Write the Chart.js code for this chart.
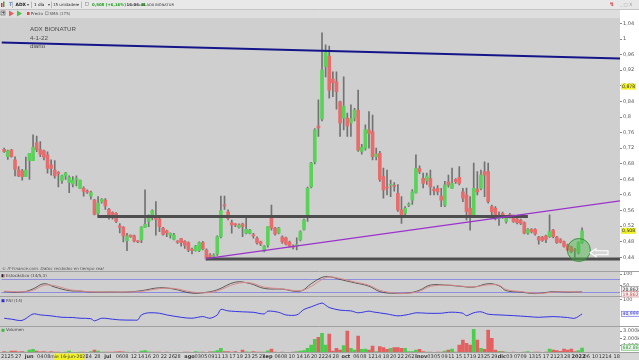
<!DOCTYPE html>
<html>
<head>
<meta charset="utf-8">
<title>ADX BIONATUR</title>
<script src="https://cdn.jsdelivr.net/npm/chart.js@4.4.1/dist/chart.umd.min.js"></script>
<style>
  html, body { margin: 0; padding: 0; background: #cfcfcf; }
  #myChart { display: block; }
</style>
</head>
<body>
<canvas id="myChart" width="639" height="360"></canvas>
<script>
// ADX BIONATUR, daily candles
// one entry per trading day, slot 0 = 21-may-2021, last slot (160) = 4-ene-2022
const opens = [
  .717,.698,.715,.690,.664,.662,.647,.688,.688,.734,
  .717,.713,.703,.677,.664,.656,.637,.649,.632,.628,
  .640,.617,.617,.610,.597,.587,.553,.582,.587,.563,
  .555,.553,.521,.517,.483,.497,.495,.481,.485,.517,
  .532,.544,.539,.538,.515,.508,.497,.487,.480,.488,
  .481,.478,.461,.457,.457,.478,.459,.446,.443,.449,
  .493,.574,.557,.529,.526,.517,.526,.502,.502,.497,
  .489,.480,.456,.472,.546,.515,.502,.492,.490,.479,
  .468,.470,.485,.512,.549,.621,.685,.777,.795,.929,
  .956,.897,.891,.839,.797,.797,.785,.797,.818,.712,
  .720,.767,.762,.698,.707,.647,.620,.625,.624,.604,
  .562,.553,.574,.587,.606,.668,.643,.637,.643,.615,
  .617,.597,.574,.634,.617,.640,.645,.608,.600,.566,
  .549,.615,.617,.660,.660,.570,.566,.540,.553,.532,
  .550,.546,.538,.536,.529,.502,.512,.512,.492,.492,
  .495,.493,.510,.492,.486,.480,.472,.467,.458,.452,
  .478
];
const highs = [
  .720,.715,.717,.698,.673,.666,.697,.707,.754,.751,
  .737,.715,.711,.690,.688,.660,.651,.658,.649,.647,
  .649,.638,.621,.613,.610,.589,.596,.591,.591,.566,
  .557,.555,.527,.519,.502,.497,.497,.483,.519,.613,
  .549,.562,.583,.540,.517,.510,.503,.502,.483,.489,
  .483,.480,.464,.471,.480,.481,.462,.450,.449,.495,
  .597,.597,.562,.536,.527,.526,.528,.546,.512,.502,
  .493,.482,.470,.519,.574,.517,.517,.495,.492,.482,
  .472,.490,.508,.538,.620,.684,.770,.844,1.016,.985,
  .982,.916,.916,.841,.903,.810,.831,.822,.869,.730,
  .780,.814,.805,.720,.712,.669,.664,.638,.632,.627,
  .596,.570,.580,.614,.703,.675,.656,.656,.664,.621,
  .624,.617,.635,.651,.669,.642,.673,.617,.618,.596,
  .682,.660,.664,.685,.682,.574,.570,.557,.556,.546,
  .553,.549,.541,.538,.531,.514,.514,.514,.494,.494,
  .497,.549,.512,.494,.488,.482,.474,.469,.463,.480,
  .516
];
const lows = [
  .709,.691,.697,.649,.647,.638,.647,.640,.688,.711,
  .698,.690,.656,.651,.643,.621,.630,.640,.606,.621,
  .623,.617,.597,.604,.589,.549,.549,.579,.563,.538,
  .538,.529,.503,.480,.457,.491,.480,.478,.478,.517,
  .519,.536,.497,.506,.497,.493,.489,.485,.476,.469,
  .463,.455,.449,.456,.455,.459,.433,.435,.435,.445,
  .490,.563,.536,.502,.519,.515,.493,.500,.500,.489,
  .474,.470,.454,.466,.510,.497,.500,.476,.472,.466,
  .462,.459,.482,.510,.532,.618,.680,.750,.790,.903,
  .848,.852,.820,.750,.767,.750,.750,.790,.712,.705,
  .715,.720,.690,.690,.635,.592,.600,.596,.610,.558,
  .527,.547,.570,.576,.605,.655,.618,.627,.600,.600,
  .600,.570,.570,.620,.617,.630,.626,.583,.536,.510,
  .549,.600,.613,.596,.579,.549,.536,.522,.540,.528,
  .541,.530,.526,.524,.500,.499,.503,.497,.474,.481,
  .478,.491,.490,.476,.477,.466,.457,.452,.440,.449,
  .476
];
const closes = [
  .711,.713,.698,.666,.649,.647,.664,.707,.722,.717,
  .705,.697,.668,.668,.649,.655,.649,.656,.645,.638,
  .641,.638,.609,.607,.606,.550,.579,.589,.572,.549,
  .550,.532,.517,.495,.495,.493,.482,.480,.517,.525,
  .547,.560,.538,.519,.499,.503,.502,.497,.479,.478,
  .471,.459,.457,.469,.478,.462,.436,.440,.445,.493,
  .560,.572,.540,.523,.523,.523,.519,.512,.510,.495,
  .478,.474,.469,.519,.515,.500,.515,.480,.474,.469,
  .466,.472,.506,.536,.617,.682,.767,.772,.921,.967,
  .869,.888,.865,.784,.828,.777,.796,.818,.715,.722,
  .768,.758,.698,.705,.640,.613,.618,.627,.622,.562,
  .544,.566,.577,.608,.668,.660,.630,.649,.621,.611,
  .608,.587,.626,.626,.630,.634,.630,.592,.557,.549,
  .617,.608,.651,.651,.583,.557,.544,.546,.543,.543,
  .544,.532,.529,.527,.502,.512,.506,.500,.485,.483,
  .486,.506,.493,.478,.480,.469,.459,.455,.457,.478,
  .508
];
const volumes = [
  180000,120000,270000,260000,150000,180000,130000,410000,500000,270000,
  150000,180000,130000,180000,120000,140000,90000,110000,270000,95000,
  80000,140000,120000,90000,180000,410000,270000,110000,140000,120000,
  140000,160000,180000,150000,140000,80000,140000,70000,270000,320000,
  150000,140000,120000,110000,90000,140000,80000,95000,60000,90000,
  140000,120000,100000,180000,130000,120000,95000,150000,180000,320000,
  640000,180000,180000,120000,180000,100000,410000,150000,120000,180000,
  110000,140000,130000,300000,550000,140000,100000,120000,95000,80000,
  110000,180000,270000,320000,640000,1090000,1860000,2140000,2680000,1090000,
  2590000,270000,640000,410000,1000000,3000000,640000,410000,2320000,500000,
  550000,410000,960000,180000,860000,730000,500000,640000,730000,730000,
  640000,640000,180000,180000,410000,500000,180000,140000,110000,95000,
  120000,140000,270000,410000,550000,140000,1090000,1770000,1320000,1090000,
  3230000,1770000,640000,500000,3140000,2000000,410000,230000,180000,140000,
  95000,120000,80000,95000,130000,180000,90000,110000,140000,95000,
  120000,550000,410000,320000,230000,550000,410000,550000,180000,320000,
  682867
];

// Estocastico (14/5,3), read at points along the lines
const stochSlots = [0,5,8,11,14,18,21,24,30,34,38,43,47,52,56,59,64,68,72,77,82,85,88,90,93,97,101,104,108,112,115,118,123,126,130,134,137,139,143,147,150,152,156,158,160];
const stochK = [22,20,34,57,42,26,24,20,20,20,26,39,33,15,19,30,64,58,36,33,24,57,85,88,76,61,46,22,14,16,28,51,50,46,42,57,48,26,20,13,18,22,20,20,20.862];
const stochD = [24,21,28,50,48,31,25,21,20,20,23,35,36,20,17,25,56,61,42,34,26,45,76,87,80,65,50,28,16,15,24,45,51,47,43,52,50,31,22,15,16,20,21,20,19.862];
const stochBands = [20, 80];

// RSI (14)
const rsiSlots = [0,2,5,8,10,13,16,19,21,24,25,27,30,32,36,37,38,40,43,45,49,52,55,57,59,60,62,66,69,72,73,76,78,81,83,85,88,89,90,93,96,98,101,102,106,109,112,114,117,121,123,125,127,128,130,132,134,137,141,145,148,152,156,158,160];
const rsiValues = [23,19,14,41,37,33,27,26,23,21,12,23,19,16,15,16,37,46,44,37,27,23,30,23,37,60,54,50,48,41,53,48,37,37,60,71,87,78,68,57,54,46,53,50,41,33,39,46,44,44,48,48,44,34,46,50,40,37,34,30,27,30,26,23,40.999];

// x axis labels
const tickSlots = [0,1.8,3.9,6.9,10,11.9,23.4,25.8,28.7,31.8,33.5,35.9,37.9,39.8,42,44.2,46.4,48,51.3,53.6,55.4,57.3,59.1,61.1,63.2,65.2,67.4,69.4,71.4,72.9,75.7,77.5,79.6,81.8,83.8,85.8,87.9,89.7,91.8,94.6,97.5,99.4,101.7,103.5,105.7,107.7,109.8,111.8,113.6,115.7,118,119.9,121.9,123.8,125.9,128,129.8,131.9,133.7,135.7,137.8,139.9,142,143.8,146.1,147.9,150,152.1,153.9,155.9,159,161.3,163.6,165.5,167.3,169.6];
const tickText = ['21','25','27','jun','04','08','24','28','jul','06','08','12','14','16','20','22','26','28','ago','03','05','09','11','13','17','19','23','25','27','sep','06','08','10','14','16','20','22','24','28','oct','06','08','12','14','18','20','22','26','28','nov','03','05','09','11','15','17','19','23','25','29','dic','03','07','09','13','15','17','21','23','28','2022','06','10','12','14','18'];
const monthText = ['jun','jul','ago','sep','oct','nov','dic','2022'];
const priceTicks = [0.44,0.48,0.52,0.56,0.6,0.64,0.68,0.72,0.76,0.8,0.84,0.88,0.92,0.96,1,1.04];
const stochTicks = [50, 100];
const rsiTicks = [100];
const volTicks = [1000000, 2000000, 3000000];

// lines drawn by hand on the chart (slot, price)
const blueSlots = [-0.75, 170.5], bluePrices = [0.991, 0.950];
const purpleSlots = [55.9, 170.5], purplePrices = [0.437, 0.585];
const supportSlots = [25.8, 145], supportPrices = [0.545, 0.545];
const floorSlots = [55.9, 170.5], floorPrices = [0.436, 0.436];
const circleSlot = 159.1, circlePrice = 0.459;
const arrowSlot = 162.2, arrowPrice = 0.452;
const crossPrice = 0.878;
const crossDateSlot = 18, crossDateText = 'mie 16-jun-2021';

const GREEN = '#5ad25a', RED = '#e86c6c';
const FONT = 'DejaVu Sans';

function isUp(i) { return closes[i] >= opens[i]; }
function toPoints(xs, ys) { return xs.map(function (x, k) { return {x: x, y: ys[k]}; }); }
function comma(v) { return String(+v.toFixed(3)).replace('.', ','); }
function dots(v) { return String(Math.round(v)).replace(/\B(?=(\d{3})+(?!\d))/g, '.'); }

const slots = closes.map(function (c, i) { return i; });

function rightAxis(weight, min, max, ticks, fmt) {
  return {
    type: 'linear', position: 'right', stack: 'panels', stackWeight: weight,
    min: min, max: max,
    afterFit: function (s) { s.width = 19; },
    afterBuildTicks: function (s) { s.ticks = ticks.map(function (v) { return {value: v}; }); },
    border: {display: false},
    grid: {drawOnChartArea: false, tickLength: 2, color: '#8a8a8a'},
    ticks: {autoSkip: false, padding: 1, color: '#555', font: {family: FONT, size: 5}, callback: fmt}
  };
}

function text(c, s, x, y, size, color, extra) {
  c.font = (extra || '') + ' ' + size + 'px "' + FONT + '"';
  c.fillStyle = color;
  c.fillText(s, x, y);
}

function valueBox(c, s, x, y, color, border) {
  c.font = '4.6px "' + FONT + '"';
  var w = c.measureText(s).width + 3;
  c.fillStyle = '#f4f4f4';
  c.fillRect(x, y - 3, w, 6);
  c.strokeStyle = border; c.lineWidth = 0.6;
  c.strokeRect(x + 0.3, y - 2.7, w - 0.6, 5.4);
  c.fillStyle = color;
  c.fillText(s, x + 1.5, y + 0.2);
}

const decor = {
  id: 'decor',
  beforeDraw: function (chart) {
    var c = chart.ctx, a = chart.chartArea;
    c.save();
    c.fillStyle = '#e8e8e8'; c.fillRect(0, 0, chart.width, 9);
    c.fillStyle = '#dedede'; c.fillRect(0, 9, chart.width, 9);
    c.fillStyle = '#cfcfcf'; c.fillRect(a.left, a.top, a.right - a.left, a.bottom - a.top);
    c.fillStyle = '#ffffff'; c.fillRect(a.right, 10, chart.width - a.right, a.bottom - 10);
    c.fillStyle = '#d6d6d6'; c.fillRect(0, a.bottom, chart.width, chart.height - a.bottom);
    c.restore();
  },
  beforeDatasetsDraw: function (chart) {
    var c = chart.ctx, a = chart.chartArea, ys = chart.scales.yStoch;
    c.save();
    c.strokeStyle = '#8e8ee0'; c.lineWidth = 1;
    stochBands.forEach(function (v) {
      var y = Math.round(ys.getPixelForValue(v)) + 0.5;
      c.beginPath(); c.moveTo(a.left, y); c.lineTo(a.right, y); c.stroke();
    });
    c.restore();
  },
  afterDatasetsDraw: function (chart) {
    var c = chart.ctx, x = chart.scales.x, y = chart.scales.yPrice;
    c.save();
    // circle round the last candles
    c.beginPath();
    c.arc(x.getPixelForValue(circleSlot), y.getPixelForValue(circlePrice), 11.5, 0, Math.PI * 2);
    c.fillStyle = 'rgba(70,185,70,0.45)'; c.fill();
    c.strokeStyle = 'rgba(45,140,45,0.85)'; c.lineWidth = 1; c.stroke();
    // arrow pointing at it
    var ax = x.getPixelForValue(arrowSlot), ay = y.getPixelForValue(arrowPrice);
    c.beginPath();
    c.moveTo(ax, ay); c.lineTo(ax + 6, ay - 4); c.lineTo(ax + 6, ay - 2); c.lineTo(ax + 18, ay - 2);
    c.lineTo(ax + 18, ay + 2); c.lineTo(ax + 6, ay + 2); c.lineTo(ax + 6, ay + 4); c.closePath();
    c.fillStyle = 'rgba(214,214,214,0.9)'; c.fill();
    c.strokeStyle = '#ffffff'; c.lineWidth = 1.1; c.stroke();
    c.restore();
  },
  afterDraw: function (chart) {
    var c = chart.ctx, a = chart.chartArea, s = chart.scales;
    var yP = s.yPrice, yS = s.yStoch, yR = s.yRsi, yV = s.yVol;
    c.save();
    c.textBaseline = 'middle';

    // panel separators
    c.strokeStyle = '#a0a0a0'; c.lineWidth = 1;
    [yS.top, yR.top, yV.top, yV.bottom].forEach(function (yy) {
      var p = Math.round(yy) - 0.5;
      c.beginPath(); c.moveTo(0, p); c.lineTo(chart.width, p); c.stroke();
    });
    c.strokeStyle = '#c4c4c4';
    c.beginPath(); c.moveTo(0, 9.5); c.lineTo(chart.width, 9.5); c.stroke();

    // toolbar, row 1
    c.fillStyle = '#d43a3a'; c.fillRect(1, 3, 1.5, 4);
    c.fillStyle = '#3aa83a'; c.fillRect(3, 1.5, 1.5, 5.5);
    text(c, 'Ŧ', 9, 4.7, 5, '#2a62c8');
    text(c, 'ADX', 15.5, 4.7, 4.4, '#222', 'bold');
    text(c, '▾', 27, 4.7, 4, '#444');
    text(c, '1 día', 34, 4.7, 4.2, '#222');
    text(c, '▾', 48, 4.7, 4, '#444');
    text(c, '15 unidades', 53, 4.7, 4, '#333');
    text(c, '▾', 77, 4.7, 4, '#444');
    c.strokeStyle = '#9a9a9a'; c.lineWidth = 0.6;
    [12.5, 31.5, 51.5, 81.5].forEach(function (p) { c.beginPath(); c.moveTo(p, 1.5); c.lineTo(p, 8); c.stroke(); });
    c.strokeRect(85.5, 2.5, 3, 3);
    text(c, '0,508 (+6,16%)', 92, 4.7, 3.9, '#18a018', 'bold');
    text(c, '16:06:41', 126.5, 4.7, 3.9, '#333', 'bold');
    c.fillStyle = '#22aa22'; c.beginPath(); c.arc(143.5, 4.6, 1.4, 0, Math.PI * 2); c.fill();
    text(c, 'ADX BIONATUR', 146.5, 4.7, 3.6, '#333');
    text(c, '↯', 609.5, 4.6, 5.5, '#d43a3a', 'bold');
    text(c, '_ □ X', 620, 4.4, 4.4, '#999');

    // toolbar, row 2
    c.strokeStyle = '#555'; c.lineWidth = 0.6;
    c.strokeRect(1, 11, 4, 4);
    text(c, '+', 1.6, 13.1, 4.2, '#222', 'bold');
    c.fillStyle = '#e65a5a';
    c.beginPath(); c.moveTo(9, 10.5); c.lineTo(14, 13.5); c.lineTo(9, 16.5); c.closePath(); c.fill();
    c.fillStyle = '#4cc04c';
    c.beginPath(); c.moveTo(17, 10.5); c.lineTo(22, 13.5); c.lineTo(17, 16.5); c.closePath(); c.fill();
    c.fillStyle = '#e04848'; c.fillRect(27, 12, 2.6, 3);
    text(c, 'Precio', 30.8, 13.6, 4, '#444');
    c.strokeStyle = '#888'; c.strokeRect(45.5, 11.8, 2.6, 3);
    text(c, 'SMA (175)', 49.5, 13.6, 4, '#555');

    // chart title
    c.textBaseline = 'alphabetic';
    c.font = '6.2px "Liberation Sans"'; c.fillStyle = '#4c4c4c';
    c.fillText('ADX BIONATUR', 30, 31);
    c.fillText('4-1-22', 30, 39.5);
    c.fillText('diario', 30, 48);
    c.textBaseline = 'middle';

    // notes and panel names
    text(c, '© IT-Finance.com. Datos recibidos en tiempo real', 2, yS.top - 3.2, 4.1, '#555', 'italic');
    c.fillStyle = '#222'; c.fillRect(1.5, yS.top + 2.2, 1.5, 3);
    c.fillStyle = '#d05050'; c.fillRect(3, yS.top + 2.2, 1.5, 3);
    text(c, 'Estocástico (14/5,3)', 6, yS.top + 3.8, 4.1, '#444');
    c.fillStyle = '#2f2fe0'; c.fillRect(1.5, yR.top + 2.2, 3, 3);
    text(c, 'RSI (14)', 6, yR.top + 3.8, 4.1, '#444');
    c.fillStyle = '#40b840'; c.fillRect(1.5, yV.top + 1.8, 3, 3);
    text(c, 'Volumen', 6, yV.top + 3.4, 4.1, '#444');

    // price labels on the axis
    [[crossPrice], [closes[closes.length - 1]]].forEach(function (p) {
      var py = yP.getPixelForValue(p[0]);
      c.fillStyle = '#f2f22a'; c.fillRect(a.right + 1, py - 3, 15, 6);
      text(c, comma(p[0]), a.right + 2, py + 0.2, 4.6, '#333');
    });

    // last values of the indicators
    var kLast = stochK[stochK.length - 1], dLast = stochD[stochD.length - 1];
    valueBox(c, comma(kLast), a.right + 1, yS.getPixelForValue(kLast) - 2.6, '#333', '#888');
    valueBox(c, comma(dLast), a.right + 1, yS.getPixelForValue(dLast) + 2.2, '#d04040', '#d08080');
    var rLast = rsiValues[rsiValues.length - 1];
    valueBox(c, comma(rLast), a.right + 1, yR.getPixelForValue(rLast), '#2a2ad8', '#6a6ae0');
    var vLast = volumes[volumes.length - 1];
    valueBox(c, dots(vLast), a.right + 1, yV.getPixelForValue(vLast) - 0.5, '#2a9a2a', '#4cb84c');

    // cursor date on the x axis
    var dx = s.x.getPixelForValue(crossDateSlot);
    c.fillStyle = '#f2f22a'; c.fillRect(dx - 15, a.bottom + 0.5, 30, 6.5);
    c.textAlign = 'center';
    text(c, crossDateText, dx, a.bottom + 3.9, 4.6, '#333');
    c.restore();
  }
};

var ctx = document.getElementById('myChart').getContext('2d');
var chart = new Chart(ctx, {
  type: 'bar',
  data: {
    datasets: [
      // hand drawn lines
      { type: 'line', data: toPoints(blueSlots, bluePrices), yAxisID: 'yPrice', borderColor: '#15158a', borderWidth: 2, pointRadius: 0, order: 0 },
      { type: 'line', data: toPoints(purpleSlots, purplePrices), yAxisID: 'yPrice', borderColor: '#9c32cc', borderWidth: 1.2, pointRadius: 0, order: 0 },
      { type: 'line', data: toPoints(supportSlots, supportPrices), yAxisID: 'yPrice', borderColor: '#4e4e4e', borderWidth: 3, pointRadius: 0, order: 0 },
      { type: 'line', data: toPoints(floorSlots, floorPrices), yAxisID: 'yPrice', borderColor: '#4e4e4e', borderWidth: 3, pointRadius: 0, order: 0 },
      // candles: bodies and wicks
      {
        data: slots.map(function (i) { return {x: i, y: [opens[i], closes[i]]}; }),
        yAxisID: 'yPrice', grouped: false, barThickness: 3, minBarLength: 1, order: 1,
        backgroundColor: function (c) { return isUp(c.dataIndex) ? GREEN : RED; }
      },
      {
        data: slots.map(function (i) { return {x: i, y: [lows[i], highs[i]]}; }),
        yAxisID: 'yPrice', grouped: false, barThickness: 1, order: 2, backgroundColor: '#727272'
      },
      // stochastic
      { type: 'line', data: toPoints(stochSlots, stochD), yAxisID: 'yStoch', borderColor: '#d88a8a', borderWidth: 1, pointRadius: 0, tension: 0.4, order: 0 },
      { type: 'line', data: toPoints(stochSlots, stochK), yAxisID: 'yStoch', borderColor: '#3c3c3c', borderWidth: 0.8, pointRadius: 0, tension: 0.4, order: 0 },
      // RSI
      { type: 'line', data: toPoints(rsiSlots, rsiValues), yAxisID: 'yRsi', borderColor: '#3434e4', borderWidth: 1, pointRadius: 0, tension: 0.3, order: 0 },
      // volume
      {
        data: slots.map(function (i) { return {x: i, y: volumes[i]}; }),
        yAxisID: 'yVol', grouped: false, barThickness: 3, order: 1,
        backgroundColor: function (c) { return isUp(c.dataIndex) ? '#4ccc4c' : '#e26060'; }
      }
    ]
  },
  options: {
    responsive: false,
    animation: false,
    devicePixelRatio: 1,
    events: [],
    layout: { padding: { top: 18, left: 0, right: 0, bottom: 0 } },
    plugins: { legend: { display: false }, tooltip: { enabled: false } },
    scales: {
      x: {
        type: 'linear', min: -0.75, max: 170.5, offset: false,
        afterFit: function (s) { s.height = 7; },
        afterBuildTicks: function (s) { s.ticks = tickSlots.map(function (v) { return {value: v}; }); },
        border: { display: false },
        grid: { display: false, drawTicks: false },
        ticks: {
          autoSkip: false, maxRotation: 0, minRotation: 0, padding: 1, color: '#333',
          font: function (c) { return {family: FONT, size: 5, weight: monthText.indexOf(tickText[c.index]) >= 0 ? 'bold' : 'normal'}; },
          callback: function (v, i) { return tickText[i]; }
        }
      },
      yPrice: rightAxis(254, 0.40256, 1.05385, priceTicks, function (v) { return comma(v); }),
      yStoch: rightAxis(25, -2, 109, stochTicks, function (v) { return String(v); }),
      yRsi: rightAxis(30, -14, 112.6, rsiTicks, function (v) { return String(v); }),
      yVol: rightAxis(26, 0, 3550000, volTicks, function (v) { return dots(v / 1000) + 'k'; })
    }
  },
  plugins: [decor]
});
</script>
</body>
</html>
